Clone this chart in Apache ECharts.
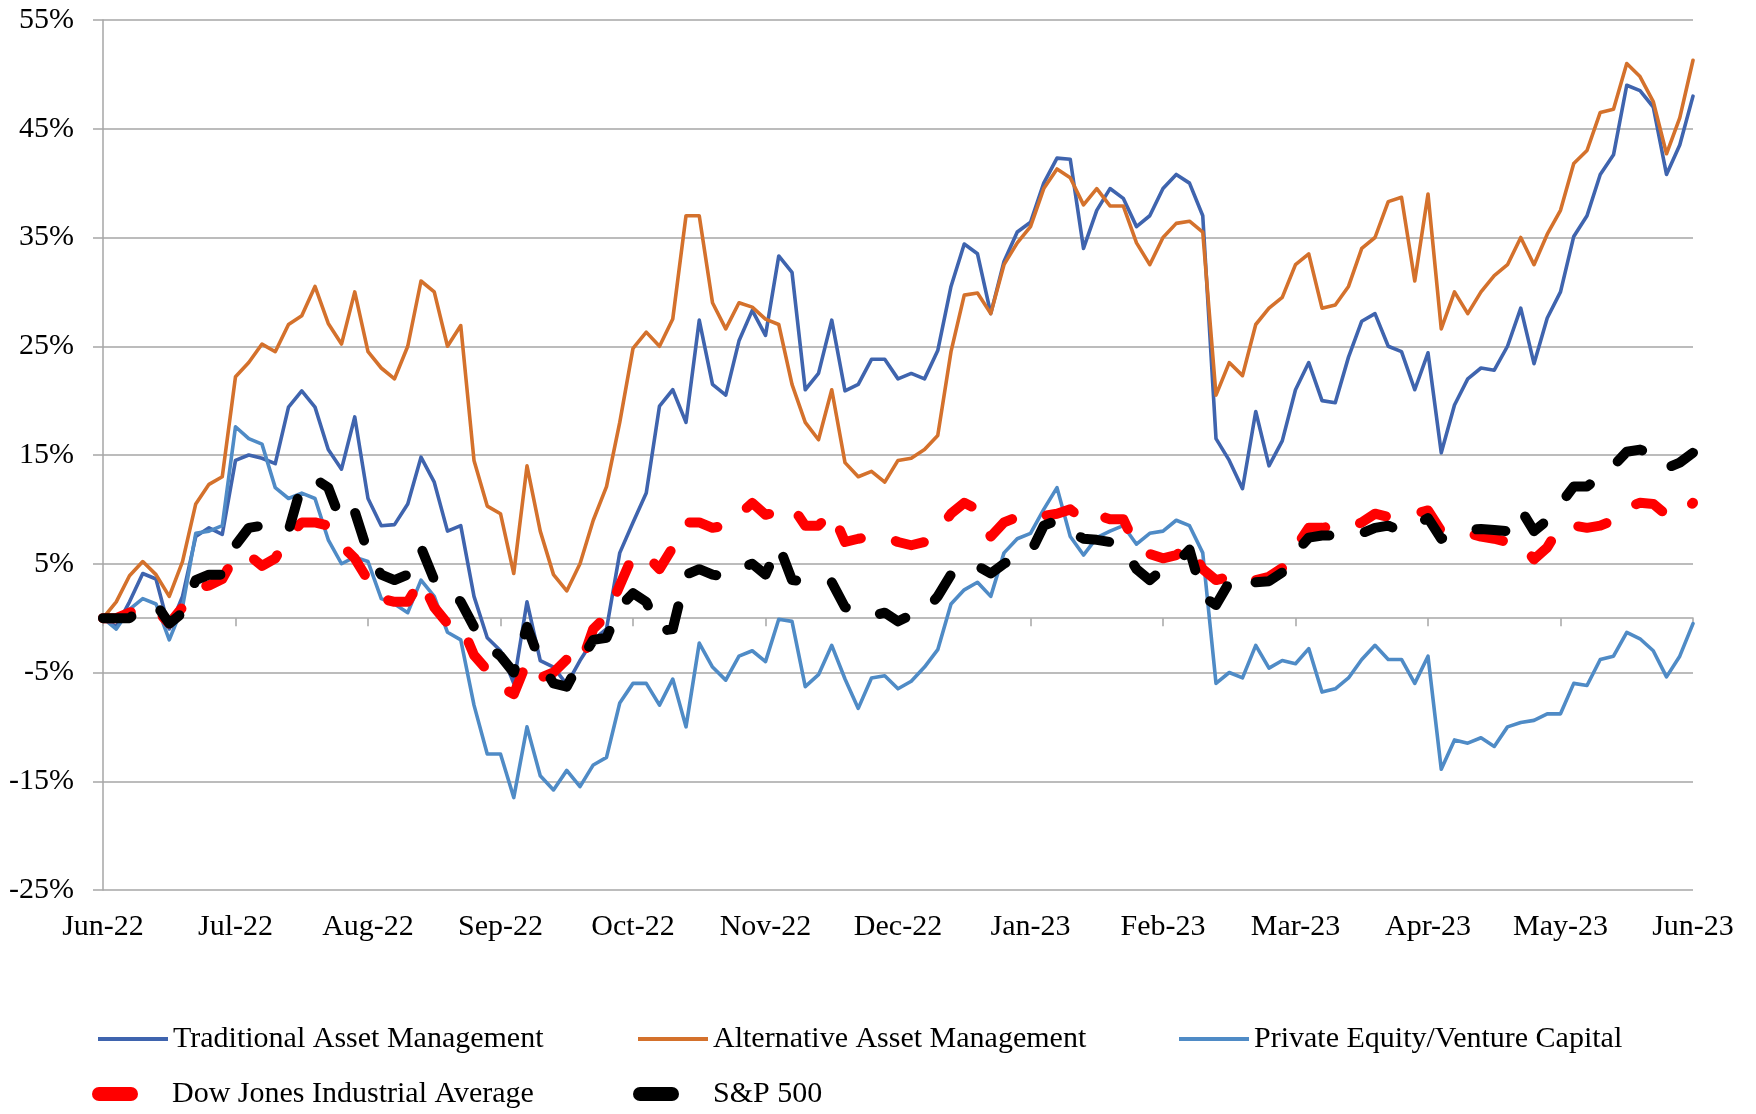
<!DOCTYPE html>
<html>
<head>
<meta charset="utf-8">
<title>Asset management stocks vs indices</title>
<script src="https://cdn.jsdelivr.net/npm/echarts@6/dist/echarts.min.js"></script>
<style>
  html, body { margin: 0; padding: 0; background: #fff; }
  #chart { width: 1756px; height: 1114px; }
</style>
</head>
<body>
<div id="chart"></div>
<script>
// month tick labels, 10 samples per month (Jun-22 .. Jun-23)
let months = ['Jun-22', 'Jul-22', 'Aug-22', 'Sep-22', 'Oct-22', 'Nov-22', 'Dec-22',
              'Jan-23', 'Feb-23', 'Mar-23', 'Apr-23', 'May-23', 'Jun-23'];
let perMonth = 10;

// cumulative return, %
let traditional = [
  0, -0.8, 1.5, 4.1, 3.6, -1.0, 2.0, 7.5, 8.3, 7.7,
  14.5, 15.0, 14.7, 14.2, 19.4, 20.9, 19.4, 15.5, 13.7, 18.5,
  11.0, 8.5, 8.6, 10.5, 14.8, 12.5, 8.0, 8.5, 2.0, -1.8,
  -3.0, -6.0, 1.5, -3.9, -4.5, -6.1, -3.9, -2.0, -1.0, 6.0,
  8.8, 11.5, 19.5, 21.0, 18.0, 27.4, 21.5, 20.5, 25.5, 28.3,
  26.0, 33.3, 31.8, 21.0, 22.5, 27.4, 20.9, 21.5, 23.8, 23.8,
  22.0, 22.5, 22.0, 24.6, 30.5, 34.4, 33.5, 28.0, 32.8, 35.5,
  36.4, 40.0, 42.3, 42.2, 34.0, 37.5, 39.5, 38.6, 36.0, 37.0,
  39.5, 40.8, 40.0, 37.0, 16.5, 14.5, 11.9, 19.0, 14.0, 16.3,
  21.0, 23.5, 20.0, 19.8, 24.0, 27.3, 28.0, 25.0, 24.5, 21.0,
  24.4, 15.2, 19.6, 22.0, 23.0, 22.8, 25.0, 28.5, 23.4, 27.6,
  30.0, 35.1, 37.0, 40.8, 42.6, 49.0, 48.5, 47.0, 40.8, 43.5,
  48.0
];
let alternative = [
  0, 1.5, 3.9, 5.2, 4.0, 2.0, 5.2, 10.5, 12.3, 13.0,
  22.2, 23.5, 25.2, 24.5, 27.0, 27.8, 30.5, 27.1, 25.2, 30.0,
  24.5, 23.0, 22.0, 25.0, 31.0, 30.0, 25.0, 26.9, 14.5, 10.3,
  9.6, 4.1, 14.0, 8.0, 4.0, 2.5, 5.0, 9.0, 12.1, 18.0,
  24.8, 26.3, 25.0, 27.5, 37.0, 37.0, 29.0, 26.6, 29.0, 28.6,
  27.5, 27.0, 21.5, 18.0, 16.4, 21.0, 14.3, 13.0, 13.5, 12.5,
  14.5, 14.7, 15.5, 16.8, 24.5, 29.7, 29.9, 28.0, 32.5, 34.5,
  36.0, 39.5, 41.3, 40.5, 38.0, 39.5, 37.9, 37.9, 34.5, 32.5,
  35.0, 36.3, 36.5, 35.5, 20.5, 23.5, 22.3, 27.0, 28.5, 29.5,
  32.5, 33.5, 28.5, 28.8, 30.5, 34.0, 35.0, 38.3, 38.7, 31.0,
  39.0, 26.6, 30.0, 28.0, 30.0, 31.5, 32.5, 35.0, 32.5, 35.3,
  37.5, 41.8, 43.0, 46.5, 46.8, 51.0, 49.8, 47.5, 42.7, 46.0,
  51.3
];
let privateEquity = [
  0, -1.0, 0.8, 1.8, 1.3, -2.0, 1.0, 7.8, 8.0, 8.5,
  17.6, 16.5, 16.0, 12.0, 11.0, 11.5, 11.0, 7.2, 5.0, 5.6,
  5.2, 1.8, 1.3, 0.5, 3.5, 2.0, -1.3, -2.0, -8.0, -12.5,
  -12.5, -16.5, -10.0, -14.5, -15.8, -14.0, -15.5, -13.5, -12.8, -7.8,
  -6.0, -6.0, -8.0, -5.6, -10.0, -2.3, -4.5, -5.7, -3.5, -3.0,
  -4.0, -0.1, -0.3, -6.3, -5.2, -2.5, -5.6, -8.3, -5.5, -5.3,
  -6.5, -5.8, -4.5, -2.9, 1.3, 2.6, 3.3, 2.0, 6.0, 7.3,
  7.8, 10.0, 12.0, 7.5, 5.8, 7.4, 8.0, 8.5, 6.8, 7.8,
  8.0, 9.0, 8.5, 6.0, -6.0, -5.0, -5.5, -2.5, -4.6, -3.9,
  -4.2, -2.8, -6.8, -6.5, -5.5, -3.8, -2.5, -3.8, -3.8, -6.0,
  -3.5, -13.9, -11.2, -11.5, -11.0, -11.8, -10.0, -9.6, -9.4, -8.8,
  -8.8, -6.0, -6.2, -3.8, -3.5, -1.3, -1.9, -3.0, -5.4, -3.5,
  -0.5
];
let dowJones = [
  0, 0, 0.5, 1.0, 0.8, -0.5, 1.0, 2.8, 3.0, 3.6,
  5.8, 5.8, 4.8, 5.5, 7.5, 8.8, 8.8, 8.5, 6.7, 5.5,
  3.5, 1.8, 1.5, 1.5, 3.5, 1.0, -0.5, -0.5, -3.4, -4.8,
  -6.3, -7.0, -4.0, -5.5, -5.0, -3.8, -4.5, -1.0, 0.2, 3.0,
  5.8, 5.8, 4.5, 6.5, 8.8, 8.8, 8.3, 8.5, 9.5, 10.6,
  9.5, 9.8, 10.3, 8.5, 8.5, 9.8, 7.0, 7.3, 7.5, 7.5,
  7.0, 6.7, 7.0, 8.0, 9.6, 10.6, 10.0, 7.5, 8.8, 9.3,
  9.0, 9.4, 9.6, 10.0, 9.0, 9.5, 9.1, 9.1, 6.5, 5.9,
  5.5, 5.8, 6.7, 4.5, 3.5, 3.8, 3.2, 3.5, 3.8, 4.6,
  6.5, 8.3, 8.3, 8.5, 8.3, 8.8, 9.6, 9.3, 9.4, 9.6,
  9.9, 8.0, 7.8, 7.8, 7.5, 7.3, 7.0, 7.0, 5.4, 6.5,
  8.5, 8.5, 8.3, 8.5, 9.0, 10.2, 10.6, 10.5, 9.5, 9.4,
  10.6
];
let sp500 = [
  0, 0, 0, 1.0, 1.3, -0.5, 0.5, 3.5, 4.0, 4.0,
  6.7, 8.3, 8.5, 8.3, 8.0, 12.3, 12.8, 12.0, 8.8, 9.8,
  6.0, 4.0, 3.5, 4.0, 6.5, 3.5, 2.8, 1.5, -0.8, -2.5,
  -3.5, -5.0, -0.8, -4.0, -6.0, -6.3, -4.0, -2.0, -1.8, 1.0,
  2.3, 1.5, -1.2, -1.0, 4.0, 4.5, 4.0, 3.8, 4.5, 5.0,
  4.0, 6.7, 3.5, 3.4, 3.2, 3.3, 1.0, 0.8, 0.2, 0.5,
  -0.3, 0.3, 0.6, 2.0, 4.0, 5.0, 4.8, 4.1, 5.0, 5.7,
  6.0, 8.5, 9.0, 8.0, 7.3, 7.2, 7.0, 6.5, 4.5, 3.5,
  4.5, 5.0, 6.3, 2.0, 1.2, 3.3, 2.5, 3.3, 3.4, 4.2,
  6.0, 7.4, 7.6, 7.6, 7.5, 7.8, 8.3, 8.5, 8.0, 8.5,
  9.2, 7.3, 7.9, 8.1, 8.2, 8.1, 8.0, 10.0, 8.0, 9.0,
  10.5, 12.1, 12.1, 13.0, 14.0, 15.3, 15.5, 15.0, 13.8, 14.3,
  15.2
];

let font = '"Liberation Serif", "Times New Roman", serif';
let gray = '#A6A6A6';

// one category per sample, named after its month
let dates = [];
for (let i = 0; i < traditional.length; i++) {
  dates.push(months[Math.floor(i / perMonth)] + '|' + (i % perMonth));
}

let capsule = 'path://M7,0H39A7,7,0,0,1,39,14H7A7,7,0,0,1,7,0Z';

function legendAt(name, left, top, icon, w, h, gap) {
  return {
    data: [{ name: name, icon: icon }],
    left: left,
    top: top,
    padding: 0,
    itemWidth: w,
    itemHeight: h,
    selectedMode: false,
    itemStyle: { borderWidth: 0 },
    textStyle: { fontFamily: font, fontSize: 30, color: '#000', lineHeight: 36, padding: [0, 0, 0, gap] }
  };
}

function lineSeries(name, data, color, width, dash) {
  return {
    name: name,
    type: 'line',
    data: data,
    xAxisIndex: 0,
    showSymbol: false,
    symbol: 'none',
    silent: true,
    itemStyle: { color: color },
    lineStyle: {
      color: color,
      width: width,
      type: dash || 'solid',
      cap: 'round',
      join: 'round'
    }
  };
}

let chart = echarts.init(document.getElementById('chart'));
chart.setOption({
  animation: false,
  backgroundColor: '#fff',
  grid: { left: 103, right: 63, top: 20, bottom: 224, outerBoundsMode: 'none' },
  xAxis: [
    {
      // axis line through 0% with month ticks
      type: 'category',
      data: dates,
      boundaryGap: false,
      axisLine: { onZero: true, lineStyle: { color: gray, width: 1.5 } },
      axisTick: { show: true, interval: perMonth - 1, length: 8, lineStyle: { color: gray, width: 1.5 } },
      axisLabel: { show: false },
      splitLine: { show: false }
    },
    {
      // month labels along the bottom
      type: 'category',
      data: dates,
      boundaryGap: false,
      position: 'bottom',
      axisLine: { show: false, onZero: false },
      axisTick: { show: false },
      axisLabel: {
        interval: perMonth - 1,
        margin: 22,
        fontFamily: font,
        fontSize: 30,
        color: '#000',
        formatter: function (v) { return v.split('|')[0]; }
      },
      splitLine: { show: false }
    }
  ],
  yAxis: {
    type: 'value',
    min: -25,
    max: 55,
    interval: 10,
    axisLine: { show: true, lineStyle: { color: gray, width: 1.5 } },
    axisTick: { show: true, length: 10, lineStyle: { color: gray, width: 1.5 } },
    axisLabel: {
      margin: 29,
      fontFamily: font,
      fontSize: 30,
      color: '#000',
      formatter: function (v) { return v + '%'; }
    },
    splitLine: { show: true, lineStyle: { color: gray, width: 1.5 } }
  },
  legend: [
    legendAt('Traditional Asset Management', 98, 1021, 'rect', 70, 4, 0),
    legendAt('Alternative Asset Management', 638, 1021, 'rect', 70, 4, 0),
    legendAt('Private Equity/Venture Capital', 1179, 1021, 'rect', 70, 4, 0),
    legendAt('Dow Jones Industrial Average', 92, 1076, capsule, 46, 14, 29),
    legendAt('S&P 500', 633, 1076, capsule, 46, 14, 29)
  ],
  series: [
    lineSeries('Traditional Asset Management', traditional, '#3F64AE', 3.6),
    lineSeries('Alternative Asset Management', alternative, '#D4712C', 3.6),
    lineSeries('Private Equity/Venture Capital', privateEquity, '#4F8BC6', 3.6),
    lineSeries('Dow Jones Industrial Average', dowJones, '#FF0000', 10, [29, 36]),
    lineSeries('S&P 500', sp500, '#000000', 10, [29, 36])
  ]
});
</script>
</body>
</html>
